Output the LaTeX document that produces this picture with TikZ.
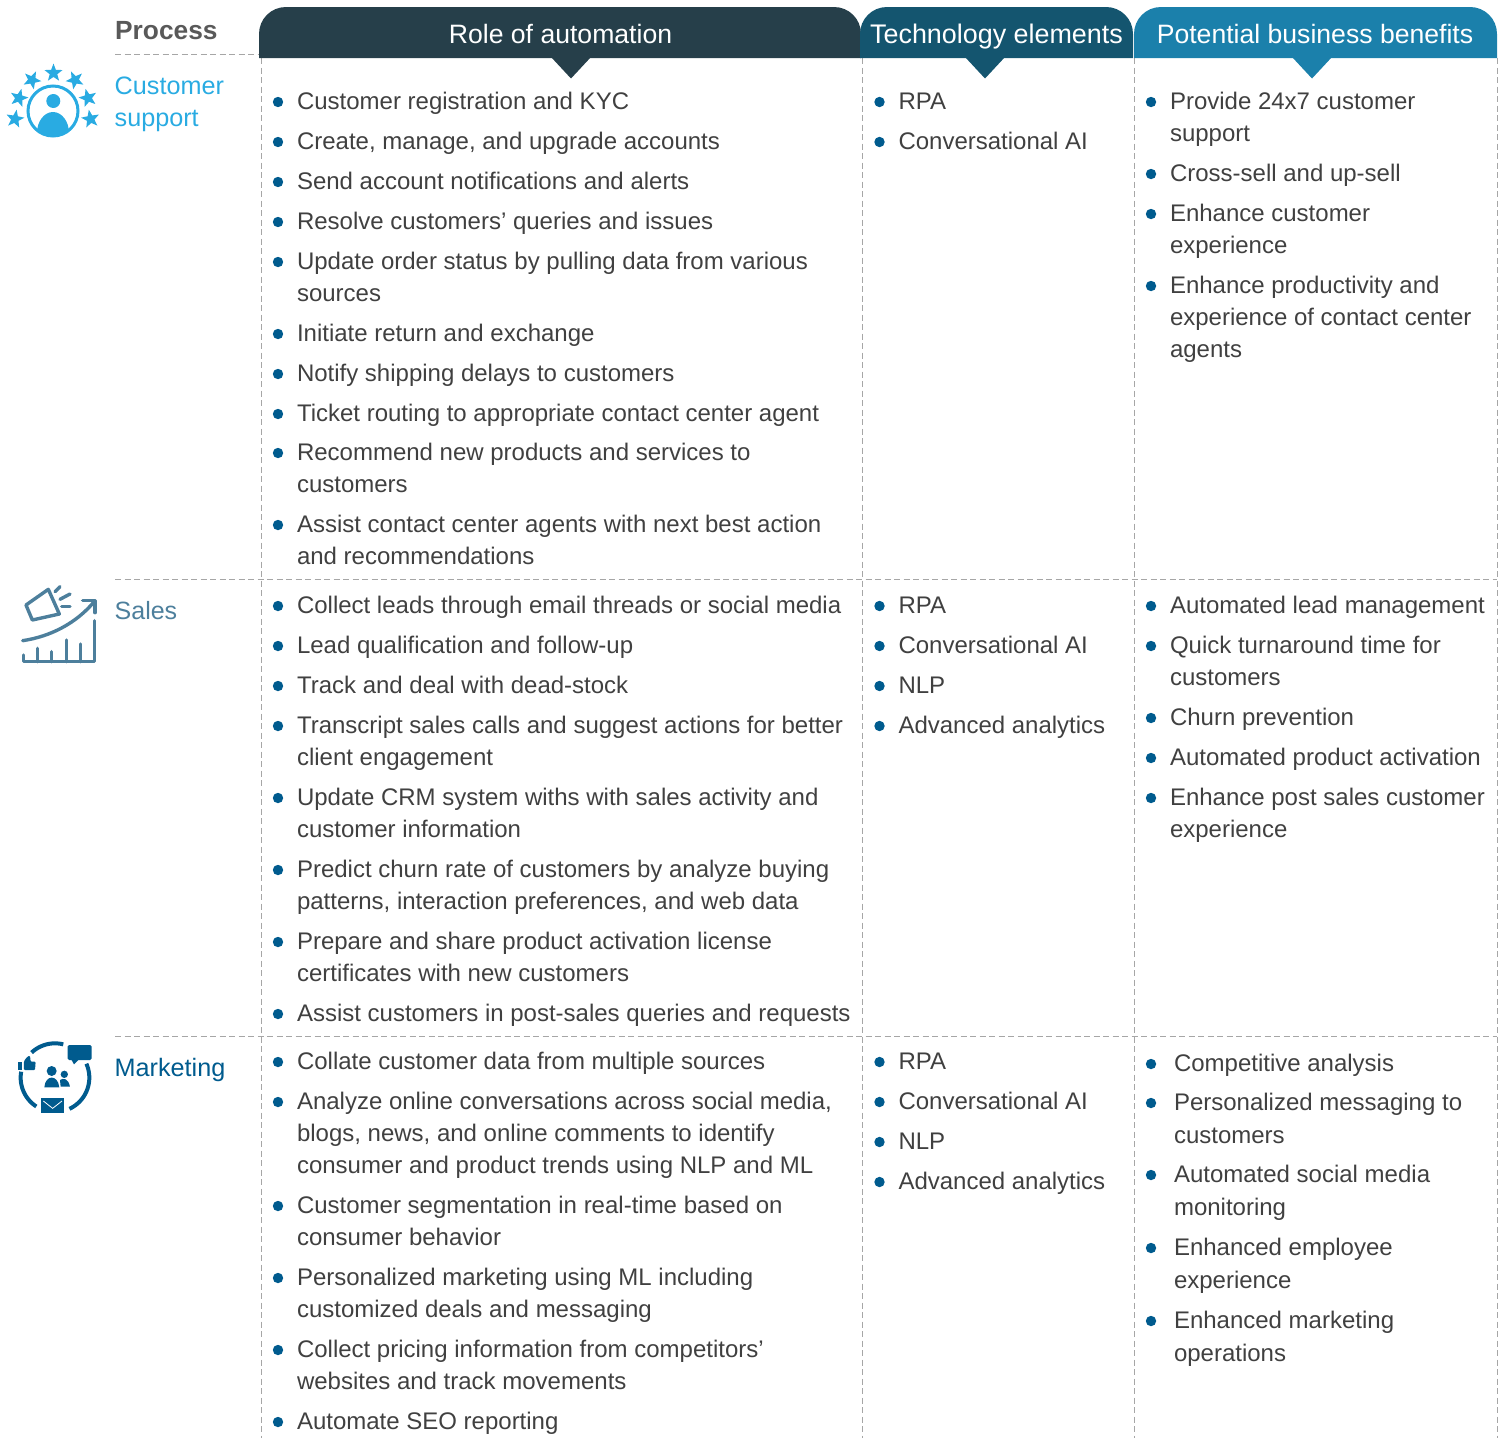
\documentclass[tikz,border=0pt]{standalone}
\usepackage{fontspec}
\setmainfont{Liberation Sans}
\usetikzlibrary{shapes.geometric}
\definecolor{txtc}{HTML}{404040}
\definecolor{gridc}{HTML}{A6A6A6}
\definecolor{bulc}{HTML}{005B8E}
\definecolor{hdra}{HTML}{263F4A}
\definecolor{hdrb}{HTML}{14556F}
\definecolor{hdrc}{HTML}{1B80AB}
\definecolor{cyanc}{HTML}{29ABE2}
\definecolor{salesc}{HTML}{4D7F9C}
\definecolor{procc}{HTML}{595959}
\newcounter{bn}
\newcommand{\bl}[3]{%
  \stepcounter{bn}%
  \fill[bulc] ({#1-19},{#2+1}) circle (5.2);%
  \node[listtext] (b\thebn) at (#1,{#2-14}) {\rule{0pt}{22pt}#3};%
}
\newcommand{\hdrshape}[4]{% left, right, tip centre, colour
  \fill[#4] (#1,58) -- (#1,34) .. controls (#1,19) and ({#1+12},7) .. ({#1+27},7) -- ({#2-27},7) .. controls ({#2-12},7) and (#2,19) .. (#2,34) -- (#2,58) -- cycle;%
  \fill[#4] ({#3-20},57) -- (#3,78.5) -- ({#3+20},57) -- cycle;%
}
\tikzset{
  x=1pt,y=-1pt,
  listtext/.style={anchor=north west,inner sep=0pt,outer sep=0pt,align=left,text=txtc,font=\fontsize{24}{32}\selectfont},
  wide/.style={font=\fontsize{24}{33.5}\selectfont},
  hdrtitle/.style={anchor=base,inner sep=0pt,text=white,font=\fontsize{26.6}{32}\selectfont},
  proc/.style={anchor=base west,inner sep=0pt,align=left,font=\fontsize{25.2}{32}\selectfont},
  grid/.style={gridc,line width=1pt,dash pattern=on 6pt off 3.5pt},
  star5/.style={star,star points=5,star point ratio=2.4,fill=cyanc,inner sep=0pt,minimum size=19pt},
}
\begin{document}
\begin{tikzpicture}
\useasboundingbox (0,0) rectangle (1504,1438);
% grid
\draw[grid] (115,54.5) -- (259,54.5);
\draw[grid] (115,579) -- (1497,579);
\draw[grid] (115,1036) -- (1497,1036);
\draw[grid] (261,58) -- (261,1438);
\draw[grid] (862,58) -- (862,1438);
\draw[grid] (1134,58) -- (1134,1438);
\draw[grid] (1497,58) -- (1497,1438);
% headers
\hdrshape{259}{861}{571}{hdra}
\hdrshape{1134}{1497}{1312}{hdrc}
\hdrshape{860}{1133}{985}{hdrb}
\node[hdrtitle] (h1) at (560.5,43) {Role of automation};
\node[hdrtitle,font=\fontsize{26.9}{32}\selectfont] (h2) at (996.5,43) {Technology elements};
\node[hdrtitle] (h3) at (1315,43) {Potential business benefits};
% process labels
\node[proc,text=procc,font=\fontsize{26.3}{32}\selectfont] (p0) at (115,39.5) {\bfseries Process};
\node[proc,text=cyanc] (p1) at (114.5,126) {Customer\\support};
\node[proc,text=salesc,font=\fontsize{25}{32}\selectfont] (p2) at (114.5,619) {Sales};
\node[proc,text=bulc] (p3) at (114.5,1076) {Marketing};
% customer icon
\draw[cyanc,line width=3pt] (53,111) circle (25);
\begin{scope}
\clip (53,111) circle (24);
\fill[cyanc] (53,133) ellipse (16 and 21);
\end{scope}
\fill[cyanc] (53.3,101) circle (7);
\node[star5,rotate=0] (s1) at (53.5,73) {};
\node[star5,rotate=-25] (s2) at (32,80) {};
\node[star5,rotate=25] (s3) at (75,80) {};
\node[star5,rotate=-15] (s4) at (19,98) {};
\node[star5,rotate=15] (s5) at (88,98) {};
\node[star5,rotate=-10] (s6) at (15,119) {};
\node[star5,rotate=10] (s7) at (90.5,119) {};
% sales icon
\begin{scope}[shift={(0,570)},x=0.3333pt,y=-0.3333pt,salesc,line width=3.4pt,line cap=round,line join=round]
\draw (78,105) -- (145,58) -- (178,132) -- (97,150) -- cycle;
\draw (165,65) -- (180,50);
\draw (180,88) -- (210,72);
\draw (185,110) -- (210,110);
\draw (68,212) .. controls (150,200) and (230,160) .. (285,92);
\draw (248,92) -- (285,92) -- (285,128);
\draw (283,152) -- (283,275) -- (70,275) -- (70,255);
\draw (113,235) -- (113,275);
\draw (155,245) -- (155,275);
\draw (200,210) -- (200,275);
\draw (242,222) -- (242,275);
\end{scope}
% marketing icon
\begin{scope}[shift={(0,1025)},x=0.3333pt,y=-0.3333pt]
\draw[bulc,line width=4pt] plot[domain=76:133,samples=30,smooth] ({165+103*cos(\x)},{158-103*sin(\x)});
\draw[bulc,line width=4pt] plot[domain=170:237,samples=30,smooth] ({165+103*cos(\x)},{158-103*sin(\x)});
\draw[bulc,line width=4pt] plot[domain=-65:24,samples=40,smooth] ({165+103*cos(\x)},{158-103*sin(\x)});
\fill[bulc,rounded corners=1.5pt] (203,60) rectangle (275,105);
\fill[bulc] (212,100) -- (222,118) -- (240,100) -- cycle;
\fill[bulc] (55,110) rectangle (67,135);
\fill[bulc,rounded corners=1pt] (72,108) -- (82,95) -- (90,92) -- (92,110) -- (107,110) -- (105,135) -- (72,135) -- cycle;
\fill[bulc] (155,138) circle (15);
\fill[bulc] (133,187) .. controls (136,148) and (174,148) .. (178,187) -- cycle;
\fill[bulc] (193,148) circle (11);
\fill[bulc] (180,165) .. controls (190,158) and (205,160) .. (210,185) -- (182,185) -- cycle;
\fill[bulc] (122,220) rectangle (193,265);
\draw[white,line width=0.8pt] (130,228) -- (158,250) -- (186,228);
\end{scope}
% column 1, customer support
\bl{297}{101}{Customer registration and KYC}
\bl{297}{141}{Create, manage, and upgrade accounts}
\bl{297}{181}{Send account notifications and alerts}
\bl{297}{221}{Resolve customers’ queries and issues}
\bl{297}{261}{Update order status by pulling data from various\\sources}
\bl{297}{333}{Initiate return and exchange}
\bl{297}{373}{Notify shipping delays to customers}
\bl{297}{413}{Ticket routing to appropriate contact center agent}
\bl{297}{452}{Recommend new products and services to\\customers}
\bl{297}{524}{Assist contact center agents with next best action\\and recommendations}
% column 2
\bl{898.5}{101}{RPA}
\bl{898.5}{141}{Conversational AI}
% column 3
\bl{1170}{101}{Provide 24x7 customer\\support}
\bl{1170}{173}{Cross-sell and up-sell}
\bl{1170}{213}{Enhance customer\\experience}
\bl{1170}{285}{Enhance productivity and\\experience of contact center\\agents}
% sales
\bl{297}{605}{Collect leads through email threads or social media}
\bl{297}{645}{Lead qualification and follow-up}
\bl{297}{685}{Track and deal with dead-stock}
\bl{297}{725}{Transcript sales calls and suggest actions for better\\client engagement}
\bl{297}{797}{Update CRM system withs with sales activity and\\customer information}
\bl{297}{869}{Predict churn rate of customers by analyze buying\\patterns, interaction preferences, and web data}
\bl{297}{941}{Prepare and share product activation license\\certificates with new customers}
\bl{297}{1013}{Assist customers in post-sales queries and requests}
\bl{898.5}{605}{RPA}
\bl{898.5}{645}{Conversational AI}
\bl{898.5}{685}{NLP}
\bl{898.5}{725}{Advanced analytics}
\bl{1170}{605}{Automated lead management}
\bl{1170}{645}{Quick turnaround time for\\customers}
\bl{1170}{717}{Churn prevention}
\bl{1170}{757}{Automated product activation}
\bl{1170}{797}{Enhance post sales customer\\experience}
% marketing
\bl{297}{1061}{Collate customer data from multiple sources}
\bl{297}{1101}{Analyze online conversations across social media,\\blogs, news, and online comments to identify\\consumer and product trends using NLP and ML}
\bl{297}{1205}{Customer segmentation in real-time based on\\consumer behavior}
\bl{297}{1277}{Personalized marketing using ML including\\customized deals and messaging}
\bl{297}{1349}{Collect pricing information from competitors’\\websites and track movements}
\bl{297}{1421}{Automate SEO reporting}
\bl{898.5}{1061}{RPA}
\bl{898.5}{1101}{Conversational AI}
\bl{898.5}{1141}{NLP}
\bl{898.5}{1181}{Advanced analytics}
\fill[bulc] (1151,1064) circle (5.2);
\node[listtext] (m1) at (1174,1049) {\rule{0pt}{22pt}Competitive analysis};
\fill[bulc] (1151,1103) circle (5.2);
\node[listtext,wide] (m2) at (1174,1088) {\rule{0pt}{22pt}Personalized messaging to\\customers};
\fill[bulc] (1151,1175) circle (5.2);
\node[listtext,wide] (m3) at (1174,1160) {\rule{0pt}{22pt}Automated social media\\monitoring};
\fill[bulc] (1151,1248) circle (5.2);
\node[listtext,wide] (m4) at (1174,1233) {\rule{0pt}{22pt}Enhanced employee\\experience};
\fill[bulc] (1151,1321) circle (5.2);
\node[listtext,wide] (m5) at (1174,1306) {\rule{0pt}{22pt}Enhanced marketing\\operations};
\end{tikzpicture}
\end{document}
